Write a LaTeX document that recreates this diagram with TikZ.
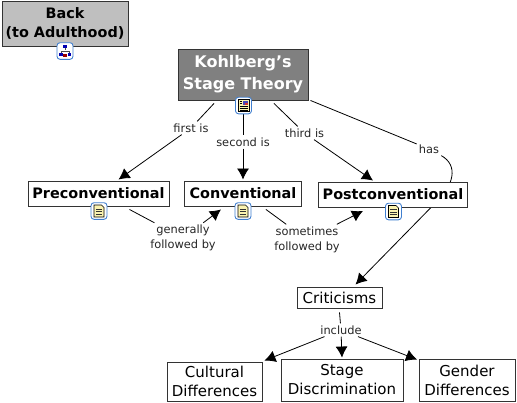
\documentclass[tikz,border=0pt]{standalone}
\usepackage{fontspec}
\setsansfont{DejaVu Sans}
\usetikzlibrary{arrows.meta,backgrounds}
\definecolor{edgegray}{HTML}{333333}
\definecolor{notefill}{HTML}{FBF3B0}
\definecolor{iconblue}{HTML}{3F7FD0}
\tikzset{
  concept/.style={draw=edgegray, line width=0.9pt, fill=white, align=center, inner sep=0pt, font=\sffamily\fontsize{15}{19}\selectfont},
  boldconcept/.style={concept, font=\sffamily\bfseries\fontsize{14.4}{19}\selectfont},
  linklabel/.style={align=center, inner sep=2pt, text=black!85, font=\sffamily\fontsize{11.4}{15}\selectfont},
  link/.style={draw=black, line width=0.8pt},
  linkto/.style={link, -{Latex[length=11pt,width=12pt]}},
  iconframe/.pic={\draw[iconblue, line width=0.9pt, fill=white, rounded corners=3pt] (-8,-8.3) rectangle (8,8.3);},
  noteicon/.pic={\pic {iconframe}; \draw[black, line width=0.6pt, fill=notefill] (-5,-6) -- (2.5,-6) -- (5,-3.5) -- (5,6) -- (-5,6) -- cycle; \foreach \yline in {-2,0.5,3} \draw[black!80, line width=0.7pt] (-3.2,\yline) -- (3.2,\yline);},
  photoicon/.pic={\pic {iconframe}; \draw[black, line width=0.6pt, fill=notefill] (-5.5,-6) rectangle (5.5,6); \fill[blue!45!gray] (-1,-5) rectangle (4.5,-0.5); \fill[red!60!gray] (1.5,-3) rectangle (4.5,-0.5); \foreach \yline in {-4,-2} \draw[black, line width=0.7pt] (-4,\yline) -- (-1.5,\yline); \foreach \yline in {1,3,4.8} \draw[black, line width=0.7pt] (-4,\yline) -- (4,\yline);},
  mapicon/.pic={\pic {iconframe}; \draw[black!70, line width=0.5pt] (0,-4) -- (0,-1) (-4,3) -- (-4,0) -- (4,0) -- (4,3); \fill[blue!70!black] (-2,-6.2) rectangle (2,-3.2); \fill[blue!70!black] (-6,1.5) rectangle (-2.5,5); \fill[red!60!black] (-1.7,2.5) rectangle (1.7,6); \fill[blue!70!black] (2.5,1.5) rectangle (6,5);}
}
\begin{document}
\begin{tikzpicture}[x=1pt, y=-1pt]
\useasboundingbox (0,0) rectangle (517,402);
% concepts
\node[boldconcept, fill=black!25, minimum width=126pt, minimum height=45pt] (back) at (65,23.5) {Back\\(to Adulthood)};
\node[concept, fill=black!50, text=white, font=\sffamily\bfseries\fontsize{16}{22}\selectfont, minimum width=130pt, minimum height=51pt] (kohlberg) at (243,74.5) {Kohlberg's\\Stage Theory};
\node[boldconcept, minimum width=141pt, minimum height=25pt] (precon) at (98.5,193.5) {Preconventional};
\node[boldconcept, minimum width=117pt, minimum height=25pt] (conv) at (243,193.5) {Conventional};
\node[boldconcept, minimum width=149pt, minimum height=25pt] (postcon) at (393,194.5) {Postconventional};
\node[concept, minimum width=85pt, minimum height=21pt] (critic) at (339.5,297.5) {Criticisms};
\node[concept, minimum width=95pt, minimum height=39pt] (cultural) at (214.5,381.5) {Cultural\\Differences};
\node[concept, minimum width=122pt, minimum height=42pt] (stagedisc) at (342,380) {Stage\\Discrimination};
\node[concept, minimum width=96pt, minimum height=42pt] (gender) at (467,380) {Gender\\Differences};
% link labels
\node[linklabel] (first) at (191,128) {first is};
\node[linklabel] (second) at (243,142) {second is};
\node[linklabel] (third) at (304.5,133) {third is};
\node[linklabel] (has) at (429,149) {has};
\node[linklabel] (generally) at (183,238) {generally\\followed by};
\node[linklabel] (sometimes) at (307,239.5) {sometimes\\followed by};
\node[linklabel] (include) at (341,330) {include};
% connectors
\begin{scope}[on background layer]
\draw[link] ([xshift=-29pt,yshift=-3pt]kohlberg.south) -- (first); \draw[linkto] (first) -- ([xshift=20pt,yshift=1pt]precon.north);
\draw[link] ([yshift=-14pt]kohlberg.south) -- (second); \draw[linkto] (second) -- ([yshift=1pt]conv.north);
\draw[link] ([xshift=31pt,yshift=-3pt]kohlberg.south) -- (third); \draw[linkto] (third) -- ([xshift=-20pt,yshift=1pt]postcon.north);
\draw[link] ([xshift=2pt]kohlberg.south east) -- (has);
\draw[linkto] (has.south east) .. controls (458,165) and (456,185) .. ([xshift=38pt]postcon.south) -- ([xshift=16pt,yshift=2pt]critic.north);
\draw[link] ([xshift=-40pt,yshift=-3pt]precon.south east) -- (generally);
\draw[linkto] (generally) -- ([xshift=-22pt,yshift=-3pt]conv.south);
\draw[link] ([xshift=-36pt,yshift=-3pt]conv.south east) -- (sometimes);
\draw[linkto] (sometimes) -- ([xshift=-30pt,yshift=-3.5pt]postcon.south);
\draw[link] ([yshift=-4pt]critic.south) -- (include);
\draw[linkto] (include) -- ([xshift=50pt,yshift=1pt]cultural.north);
\draw[linkto] (include) -- ([yshift=1pt]stagedisc.north);
\draw[linkto] (include) -- ([xshift=-50pt,yshift=-1pt]gender.north);
\end{scope}
% icons
\pic at (65,51) {mapicon};
\pic at (243.5,105.5) {photoicon};
\pic at (99,211) {noteicon};
\pic at (243,211) {noteicon};
\pic at (393.5,211.5) {noteicon};
\end{tikzpicture}
\end{document}
